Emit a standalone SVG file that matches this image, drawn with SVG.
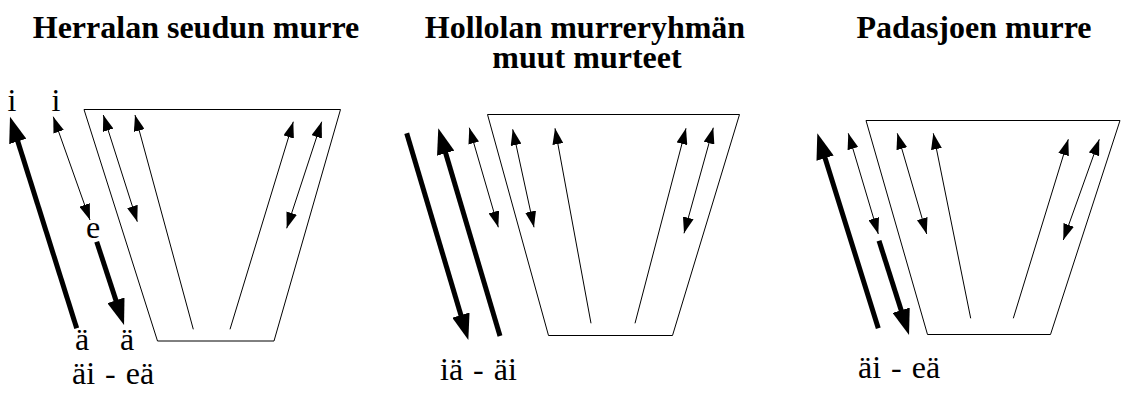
<svg xmlns="http://www.w3.org/2000/svg" width="1121" height="394" viewBox="0 0 1121 394">
<style>
.title{font-family:"Liberation Serif","Times New Roman",Times,"DejaVu Serif",serif;font-weight:bold;font-size:32px;fill:#000;text-anchor:middle}
.lbl{font-family:"Liberation Serif","Times New Roman",Times,"DejaVu Serif",serif;font-size:32px;fill:#000}
.trap{fill:none;stroke:#000;stroke-width:1}
.thin{stroke:#000;stroke-width:1;fill:none}
.thick{stroke:#000;stroke-width:5;fill:none}
</style>
<defs>
<marker id="ah" viewBox="0 0 16 11" refX="16" refY="5.5" markerWidth="16" markerHeight="11" markerUnits="userSpaceOnUse" orient="auto-start-reverse"><path d="M0,0 L16,5.5 L0,11 z" fill="#000"/></marker>
<marker id="ahb" viewBox="0 0 26 18" refX="14" refY="9" markerWidth="26" markerHeight="18" markerUnits="userSpaceOnUse" orient="auto"><path d="M0,0 L26,9 L0,18 z" fill="#000"/></marker>
</defs>
<rect width="1121" height="394" fill="#fff"/>
<g id="panel-herrala">
<text class="title" x="196" y="38">Herralan seudun murre</text>
<polygon class="trap" points="84,109.5 340.5,109.5 274,341 157.5,341"/>
<text class="lbl" x="12" y="111" text-anchor="middle">i</text>
<text class="lbl" x="56" y="111" text-anchor="middle">i</text>
<text class="lbl" x="93" y="238" text-anchor="middle">e</text>
<text class="lbl" x="82" y="350" text-anchor="middle">ä</text>
<text class="lbl" x="127" y="350" text-anchor="middle">ä</text>
<text class="lbl" x="72" y="384" word-spacing="2">äi - eä</text>
</g>
<g id="panel-hollola">
<text class="title" x="585" y="38">Hollolan murreryhmän</text>
<text class="title" x="587" y="68">muut murteet</text>
<polygon class="trap" points="487.5,114.5 739.5,114.5 672.5,335.5 548.5,335.5"/>
<text class="lbl" x="440" y="380" word-spacing="2">iä - äi</text>
</g>
<g id="panel-padasjoki">
<text class="title" x="974" y="38">Padasjoen murre</text>
<polygon class="trap" points="866,120.5 1120,120.5 1050.5,334.5 927.5,334.5"/>
<text class="lbl" x="858" y="378" word-spacing="2">äi - eä</text>
</g>
<g id="connectors">
<line class="thick" x1="76.7" y1="328.3" x2="13.6" y2="128.1" marker-end="url(#ahb)"/>
<line class="thick" x1="96.7" y1="241.7" x2="120.3" y2="313.6" marker-end="url(#ahb)"/>
<line class="thin" x1="53.3" y1="116.7" x2="90" y2="220" marker-start="url(#ah)" marker-end="url(#ah)"/>
<line class="thin" x1="103.3" y1="115" x2="137.3" y2="221.7" marker-start="url(#ah)" marker-end="url(#ah)"/>
<line class="thin" x1="193.3" y1="329.3" x2="135" y2="115" marker-end="url(#ah)"/>
<line class="thin" x1="230" y1="329.3" x2="293.3" y2="121.7" marker-end="url(#ah)"/>
<line class="thin" x1="321.7" y1="121.7" x2="286.7" y2="228.3" marker-start="url(#ah)" marker-end="url(#ah)"/>

<line class="thick" x1="406.7" y1="133.3" x2="464.9" y2="328.5" marker-end="url(#ahb)"/>
<line class="thick" x1="500" y1="336" x2="441.7" y2="139.8" marker-end="url(#ahb)"/>
<line class="thin" x1="469.3" y1="127.7" x2="498.3" y2="227.3" marker-start="url(#ah)" marker-end="url(#ah)"/>
<line class="thin" x1="512.7" y1="129.3" x2="534" y2="227.3" marker-start="url(#ah)" marker-end="url(#ah)"/>
<line class="thin" x1="591" y1="323.3" x2="555" y2="128.3" marker-end="url(#ah)"/>
<line class="thin" x1="635" y1="323.3" x2="686" y2="128.3" marker-end="url(#ah)"/>
<line class="thin" x1="713.3" y1="127.7" x2="684" y2="233.3" marker-start="url(#ah)" marker-end="url(#ah)"/>

<line class="thick" x1="878.3" y1="328.3" x2="820.9" y2="144.8" marker-end="url(#ahb)"/>
<line class="thick" x1="879" y1="240.7" x2="905.4" y2="323.6" marker-end="url(#ahb)"/>
<line class="thin" x1="848.3" y1="133.3" x2="878.3" y2="234" marker-start="url(#ah)" marker-end="url(#ah)"/>
<line class="thin" x1="897.3" y1="133.3" x2="926.7" y2="234" marker-start="url(#ah)" marker-end="url(#ah)"/>
<line class="thin" x1="970.7" y1="318.3" x2="933.3" y2="133.3" marker-end="url(#ah)"/>
<line class="thin" x1="1013.3" y1="318.3" x2="1068.3" y2="139.3" marker-end="url(#ah)"/>
<line class="thin" x1="1099.3" y1="139.3" x2="1063.3" y2="240" marker-start="url(#ah)" marker-end="url(#ah)"/>
</g>
</svg>
